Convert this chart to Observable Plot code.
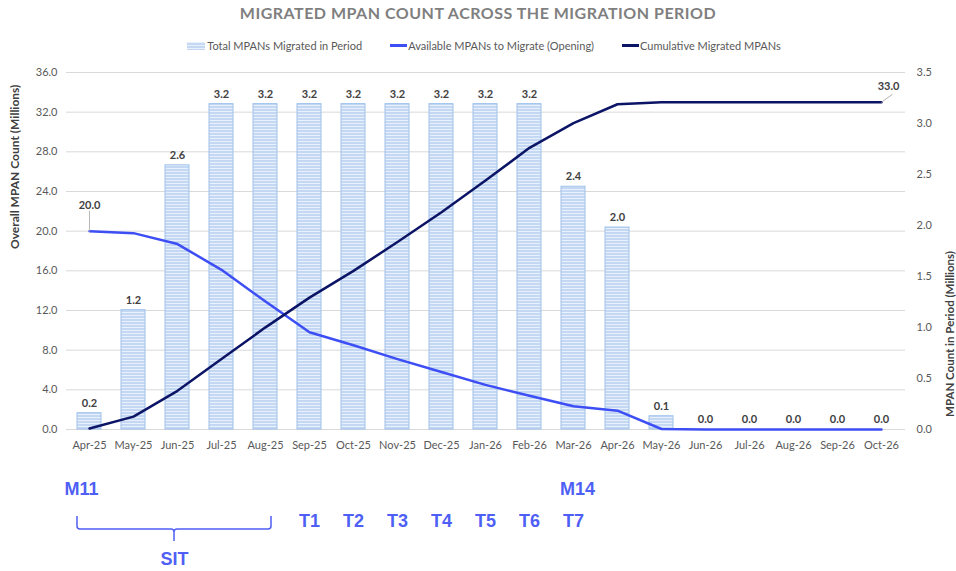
<!DOCTYPE html>
<html><head><meta charset="utf-8">
<script src="https://cdn.jsdelivr.net/npm/d3@7"></script>
<script src="https://cdn.jsdelivr.net/npm/@observablehq/plot@0.6"></script>
<style>
body{margin:0;background:#fff;font-family:Lato,"Open Sans",sans-serif;}
#wrap{position:relative;width:956px;height:571px;overflow:hidden;}
#title{position:absolute;top:3px;left:0;width:956px;text-align:center;font-weight:bold;font-size:16px;letter-spacing:0.5px;color:#7f7f7f;}
#legend{position:absolute;top:39px;left:6px;width:956px;display:flex;justify-content:center;gap:28px;font-size:11px;color:#595959;}
.item{display:flex;align-items:center;}
.sw-bar{width:18px;height:8px;margin-right:2px;background:repeating-linear-gradient(to bottom,#e8f0fb 0 1px,#c4d8f3 1px 3px);}
.sw-line{width:17px;height:2.5px;margin-right:1px;}
#chart{position:absolute;top:60px;left:0;}
</style></head>
<body><div id="wrap">
<div id="title">MIGRATED MPAN COUNT ACROSS THE MIGRATION PERIOD</div>
<div id="legend">
 <div class="item"><div class="sw-bar"></div>Total MPANs Migrated in Period</div>
 <div class="item"><div class="sw-line" style="background:#3d4ef5"></div>Available MPANs to Migrate (Opening)</div>
 <div class="item"><div class="sw-line" style="background:#0c1466"></div>Cumulative Migrated MPANs</div>
</div>
<div id="chart"></div>
</div>
<script>
const months = ["Apr-25","May-25","Jun-25","Jul-25","Aug-25","Sep-25","Oct-25","Nov-25","Dec-25","Jan-26","Feb-26","Mar-26","Apr-26","May-26","Jun-26","Jul-26","Aug-26","Sep-26","Oct-26"];
const migratedInPeriod = [0.16,1.17,2.59,3.19,3.19,3.19,3.19,3.19,3.19,3.19,3.19,2.38,1.98,0.13,0,0,0,0,0];
const availableOpening = [20.0,19.8,18.7,16.1,12.9,9.8,8.5,7.1,5.8,4.5,3.4,2.35,1.9,0.05,0,0,0,0,0];
const cumulativeMigrated = [0.1,1.3,3.9,7.1,10.3,13.3,16.0,18.9,21.9,25.1,28.4,30.9,32.8,33.0,33.0,33.0,33.0,33.0,33.0];
const leftTicks = [0,4,8,12,16,20,24,28,32,36];
const rightTicks = [0,0.5,1,1.5,2,2.5,3,3.5];
const phaseLabels = ["T1","T2","T3","T4","T5","T6","T7"];
const phaseMonths = ["Sep-25","Oct-25","Nov-25","Dec-25","Jan-26","Feb-26","Mar-26"];
const milestoneStart = {label: "M11", month: "Apr-25"};
const milestoneEnd = {label: "M14", month: "Mar-26"};
const sitLabel = "SIT";
const sitMonths = ["Apr-25","Aug-25"];
const sitCenter = "Jun-25";

const k = 36 / 3.5;
const fmt = d3.format(".1f");
const rows = months.map((m, i) => ({month: m, inPeriod: migratedInPeriod[i], avail: availableOpening[i], cum: cumulativeMigrated[i]}));
const blue = "#4f5ff5";
const annoFont = "Liberation Sans, Arial, sans-serif";
const anno = {frameAnchor: "bottom", fontSize: 18, fontWeight: "bold", fontFamily: annoFont, fill: blue};

function brace(index, scales, values, dim) {
  const x = scales.x, bw = x.bandwidth();
  const x0 = x(sitMonths[0]);
  const x1 = x(sitMonths[1]) + bw * 0.75;
  const mid = x(sitCenter) + bw / 2 - 3;
  const b = dim.height - dim.marginBottom;
  const top = b + 87, h = b + 100, tip = b + 112, r = 3;
  const p = d3.path();
  p.moveTo(x0, top); p.lineTo(x0, h - r); p.quadraticCurveTo(x0, h, x0 + r, h);
  p.lineTo(mid - r, h); p.quadraticCurveTo(mid, h, mid, h + r); p.lineTo(mid, tip);
  p.moveTo(mid, h + r); p.quadraticCurveTo(mid, h, mid + r, h);
  p.lineTo(x1 - r, h); p.quadraticCurveTo(x1, h, x1, h - r); p.lineTo(x1, top);
  const g = d3.create("svg:g");
  g.append("path").attr("d", p.toString()).attr("fill", "none").attr("stroke", blue).attr("stroke-width", 1.5);
  return g.node();
}

const leader = () => ({draw(ctx, l) { ctx.moveTo(0, 0); ctx.lineTo(0, -l); }});

const chart = Plot.plot({
  width: 956, height: 511,
  marginTop: 12, marginBottom: 142, marginLeft: 66, marginRight: 51,
  style: {fontFamily: "Lato, sans-serif", fontSize: "11px", color: "#595959", background: "white", overflow: "visible"},
  x: {domain: months, paddingInner: 0.45, paddingOuter: 0.225, label: null},
  y: {domain: [0, 36], label: null},
  marks: [
    Plot.gridY(leftTicks, {stroke: "#d9d9d9", strokeOpacity: 1}),
    Plot.axisY(leftTicks, {anchor: "left", tickSize: 0, tickPadding: 9, tickFormat: d => d.toFixed(1), label: null, fill: "#595959"}),
    Plot.axisY(rightTicks.map(r => r * k), {anchor: "right", tickSize: 0, tickPadding: 11, tickFormat: d => (d / k).toFixed(1), label: null, fill: "#595959"}),
    Plot.axisX({tickSize: 0, tickPadding: 12, label: null, fill: "#595959"}),
    Plot.text(["Overall MPAN Count (Millions)"], {frameAnchor: "left", dx: -51, dy: -2, rotate: -90, fontWeight: "bold", fontSize: 12, fill: "#404040"}),
    Plot.text(["MPAN Count in Period (Millions)"], {frameAnchor: "right", dx: 45, rotate: -90, fontWeight: "bold", fontSize: 11.5, fill: "#404040"}),
    Plot.barY(rows, {x: "month", y: d => d.inPeriod * k, fill: "url(#stripes)", stroke: "#9fc2ec", strokeWidth: 1}),
    Plot.text(rows, {x: "month", y: d => d.inPeriod * k, text: d => fmt(d.inPeriod), dy: -10, fontWeight: "bold", fill: "#404040"}),
    Plot.line(rows, {x: "month", y: "avail", stroke: "#3d4ef5", strokeWidth: 2.5}),
    Plot.line(rows, {x: "month", y: "cum", stroke: "#0c1466", strokeWidth: 2.5}),
    Plot.vector([rows[0]], {x: "month", y: "avail", length: 20, rotate: 0, anchor: "start", shape: leader(), stroke: "#a6a6a6", strokeWidth: 0.8}),
    Plot.text([rows[0]], {x: "month", y: "avail", text: d => fmt(d.avail), dy: -26, fontWeight: "bold", fill: "#404040"}),
    Plot.vector([rows[rows.length - 1]], {x: "month", y: "cum", length: 13, rotate: 54, anchor: "start", shape: leader(), stroke: "#a6a6a6", strokeWidth: 0.8}),
    Plot.text([rows[rows.length - 1]], {x: "month", y: "cum", text: d => fmt(d.cum), dx: 7, dy: -16, fontWeight: "bold", fill: "#404040"}),
    Plot.text([milestoneStart], {x: "month", text: "label", dx: -8, dy: 65, ...anno}),
    Plot.text([milestoneEnd], {x: "month", text: "label", dx: 4, dy: 65, ...anno}),
    Plot.text(phaseLabels, {x: (d, i) => phaseMonths[i], dy: 97, ...anno}),
    Plot.text([sitLabel], {x: () => sitCenter, dx: -3, dy: 135, ...anno}),
    brace
  ]
});

const defs = d3.select(chart).insert("defs", ":first-child");
const pat = defs.append("pattern").attr("id", "stripes").attr("patternUnits", "userSpaceOnUse").attr("width", 4).attr("height", 3);
pat.append("rect").attr("width", 4).attr("height", 3).attr("fill", "#c4d8f3");
pat.append("rect").attr("width", 4).attr("height", 1).attr("fill", "#e8f0fb");
document.getElementById("chart").appendChild(chart);
</script>
</body></html>
